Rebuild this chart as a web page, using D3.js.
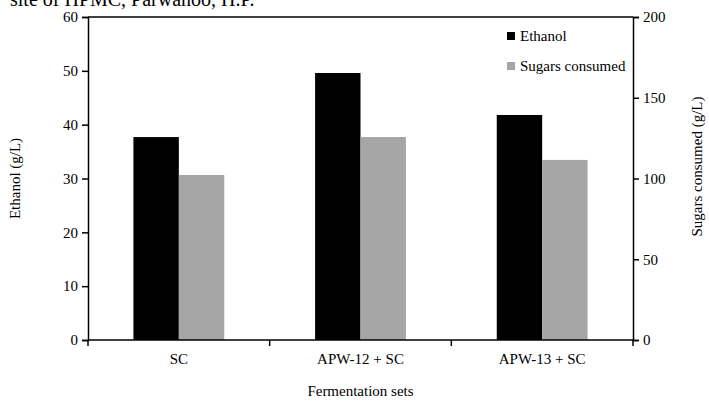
<!DOCTYPE html>
<html>
<head>
<meta charset="utf-8">
<script src="https://cdn.jsdelivr.net/npm/d3@7/dist/d3.min.js"></script>
<style>
  body { margin: 0; background: #fff; }
  svg { font-family: "Liberation Serif", "Times New Roman", serif; }
  .axis path, .axis line { stroke: #000; stroke-width: 1.5px; }
  .axis text { font-family: "Liberation Serif", "Times New Roman", serif; font-size: 15px; fill: #000; }
</style>
</head>
<body>
<div id="chart-area"></div>
<script>
var categories = ["SC", "APW-12 + SC", "APW-13 + SC"];
var ethanol = [37.7, 49.6, 41.8];
var sugars = [102.2, 125.7, 111.5];
var ethanolTicks = [0, 10, 20, 30, 40, 50, 60];
var sugarTicks = [0, 50, 100, 150, 200];

var margin = { left: 88, right: 76, top: 17, bottom: 61 };
var width = 709 - margin.left - margin.right;
var height = 401 - margin.top - margin.bottom;

var svg = d3.select("#chart-area").append("svg")
	.attr("width", 709)
	.attr("height", 401);

// caption line from the paper, cut off at the top
svg.append("text")
	.attr("x", 10)
	.attr("y", 6)
	.attr("font-size", "20px")
	.text("site of HPMC, Parwanoo, H.P.");

var g = svg.append("g")
	.attr("transform", "translate(" + margin.left + ", " + margin.top + ")");

var x0 = d3.scaleBand()
	.domain(categories)
	.range([0, width]);

var x1 = d3.scaleBand()
	.domain(["ethanol", "sugars"])
	.range([x0.bandwidth() * 0.25, x0.bandwidth() * 0.75]);

var yLeft = d3.scaleLinear()
	.domain([0, 60])
	.range([height, 0]);

var yRight = d3.scaleLinear()
	.domain([0, 200])
	.range([height, 0]);

// top border
g.append("line")
	.attr("x1", 0).attr("x2", width)
	.attr("y1", 0).attr("y2", 0)
	.attr("stroke", "#000")
	.attr("stroke-width", 1.5);

// bars
var groups = g.selectAll(".set")
	.data(categories)
	.enter().append("g")
		.attr("class", "set")
		.attr("transform", function(d){ return "translate(" + x0(d) + ",0)"; });

groups.append("rect")
	.attr("x", x1("ethanol"))
	.attr("y", function(d, i){ return yLeft(ethanol[i]); })
	.attr("width", x1.bandwidth())
	.attr("height", function(d, i){ return height - yLeft(ethanol[i]); })
	.attr("fill", "#000");

groups.append("rect")
	.attr("x", x1("sugars"))
	.attr("y", function(d, i){ return yRight(sugars[i]); })
	.attr("width", x1.bandwidth())
	.attr("height", function(d, i){ return height - yRight(sugars[i]); })
	.attr("fill", "#a6a6a6");

// axes
var xAxis = g.append("g")
	.attr("class", "axis")
	.attr("transform", "translate(0, " + height + ")")
	.call(d3.axisBottom(x0).tickSize(0).tickPadding(13));
xAxis.select(".domain").remove();
xAxis.append("line")
	.attr("x1", 0).attr("x2", width)
	.attr("stroke", "#000");
xAxis.selectAll(".edge")
	.data(d3.range(categories.length + 1))
	.enter().append("line")
		.attr("class", "edge")
		.attr("x1", function(d){ return d * x0.step(); })
		.attr("x2", function(d){ return d * x0.step(); })
		.attr("y2", 6);

g.append("g")
	.attr("class", "axis")
	.call(d3.axisLeft(yLeft).tickValues(ethanolTicks).tickSizeOuter(0).tickSize(6).tickPadding(4));

g.append("g")
	.attr("class", "axis")
	.attr("transform", "translate(" + width + ",0)")
	.call(d3.axisRight(yRight).tickValues(sugarTicks).tickSizeOuter(0).tickSize(6).tickPadding(4));

// axis titles
g.append("text")
	.attr("x", width / 2)
	.attr("y", height + 56)
	.attr("font-size", "15px")
	.attr("text-anchor", "middle")
	.text("Fermentation sets");

g.append("text")
	.attr("x", -(height / 2))
	.attr("y", -68)
	.attr("font-size", "15px")
	.attr("text-anchor", "middle")
	.attr("transform", "rotate(-90)")
	.text("Ethanol (g/L)");

g.append("text")
	.attr("x", -(height / 2) + 12)
	.attr("y", width + 69)
	.attr("font-size", "15px")
	.attr("text-anchor", "middle")
	.attr("transform", "rotate(-90)")
	.text("Sugars consumed (g/L)");

// legend
var legend = g.selectAll(".legend")
	.data([["Ethanol", "#000"], ["Sugars consumed", "#a6a6a6"]])
	.enter().append("g")
		.attr("class", "legend")
		.attr("transform", function(d, i){ return "translate(419," + (15 + i * 30) + ")"; });

legend.append("rect")
	.attr("width", 8)
	.attr("height", 8)
	.attr("fill", function(d){ return d[1]; });

legend.append("text")
	.attr("x", 13)
	.attr("y", 9)
	.attr("font-size", "15px")
	.text(function(d){ return d[0]; });
</script>
</body>
</html>
